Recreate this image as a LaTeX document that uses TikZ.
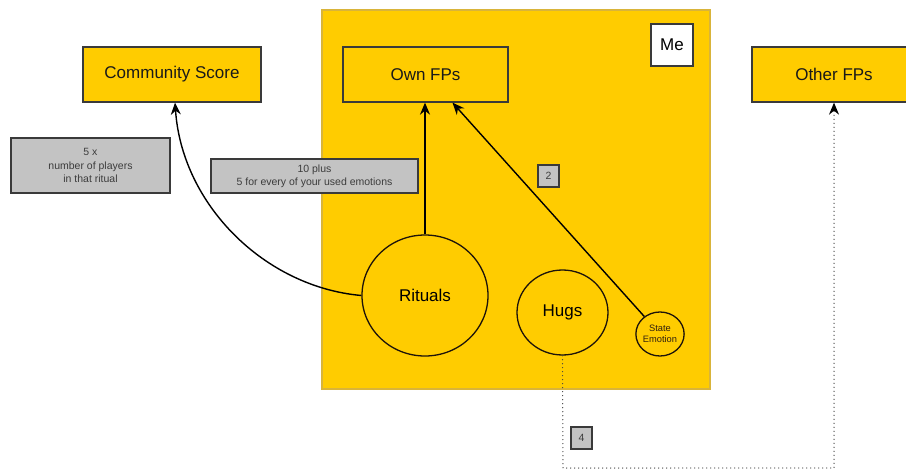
\documentclass[tikz,border=0pt]{standalone}
\usepackage{fontspec}
\setmainfont{Liberation Sans}
\usetikzlibrary{arrows.meta,calc,shapes.geometric}
\definecolor{gold}{HTML}{FFCC00}
\definecolor{goldedge}{HTML}{D9B43A}
\definecolor{edge}{HTML}{3A3A3A}
\definecolor{graybox}{HTML}{C3C3C3}
\definecolor{graytext}{HTML}{3C3C3C}
\definecolor{dotgray}{HTML}{444444}
\tikzset{
  bigbox/.style={draw=edge, line width=1.3pt, fill=gold, minimum height=55pt, inner sep=0pt,
    font=\fontsize{17}{20}\selectfont, text=black!90},
  notebox/.style={draw=edge, line width=1.3pt, fill=graybox, inner sep=0pt, align=center,
    font=\fontsize{10.5}{13.2}\selectfont, text=graytext},
  numbox/.style={draw=edge, line width=1.3pt, fill=graybox, minimum width=21pt, minimum height=22pt,
    inner sep=0pt, font=\fontsize{10.5}{12}\selectfont, text=graytext},
  bubble/.style={draw=black!85!brown, line width=1.3pt, ellipse, inner sep=0pt},
  arr/.style={draw=black, line width=1.4pt, -{Stealth[length=12pt,width=10pt]}},
  dotline/.style={draw=dotgray, line width=1.3pt, line cap=round, dash pattern=on 0pt off 4pt},
  dotarr/.style={dotline, -{Stealth[length=12pt,width=10pt,color=black,fill=black,line cap=butt]}}
}
\begin{document}
\begin{tikzpicture}[x=1pt,y=-1pt]
\useasboundingbox (0,0) rectangle (906,471);
\clip (0,0) rectangle (906,471);
\fill[white] (0,0) rectangle (906,471);
% Me region
\draw[fill=gold, draw=goldedge, line width=1.2pt] (322,10) rectangle (710,389);
\node[draw=edge, line width=1.3pt, fill=white, minimum width=42pt, minimum height=42pt, inner sep=0pt,
  font=\fontsize{17}{20}\selectfont] (me) at (672,45) {Me};
% top boxes
\node[bigbox, minimum width=178pt] (cs) at (172,74.5) {Community Score};
\node[bigbox, minimum width=165pt] (own) at (425.5,74.5) {Own FPs};
\node[bigbox, minimum width=164pt] (other) at (834,74.5) {Other FPs};
% notes
\node[notebox, minimum width=159pt, minimum height=55pt] (n5) at (90.5,165.5) {5 x\\number of players\\in that ritual};
\node[notebox, minimum width=207pt, minimum height=34pt] (n10) at (314.5,176) {10 plus\\5 for every of your used emotions};
\node[numbox] (n2) at (548.5,176) {2};
\node[numbox] (n4) at (581.5,438) {4};
% bubbles
\node[bubble, minimum width=126pt, minimum height=121pt, font=\fontsize{17}{20}\selectfont] (rit) at (425,295.5) {Rituals};
\node[bubble, minimum width=91pt, minimum height=85pt, font=\fontsize{17}{20}\selectfont] (hugs) at (562.5,312.5) {Hugs};
\node[bubble, minimum width=46pt, minimum height=44pt, align=center, font=\fontsize{9.3}{11.5}\selectfont, text=black!75!brown] (se) at (660,334) {State\\Emotion};
% connectors
\draw[arr] (rit.north) -- (rit.north |- own.south);
\draw[arr] (se) -- ([xshift=27pt]own.south);
\draw[arr] (rit.west) .. controls (265,287) and (182,205) .. ([xshift=3pt]cs.south);
\coordinate (c1) at (563,468);
\coordinate (c2) at (834,468);
\draw[dotarr] (hugs.south) -- (c1) -- (c2) -- (other.south);
\end{tikzpicture}
\end{document}
